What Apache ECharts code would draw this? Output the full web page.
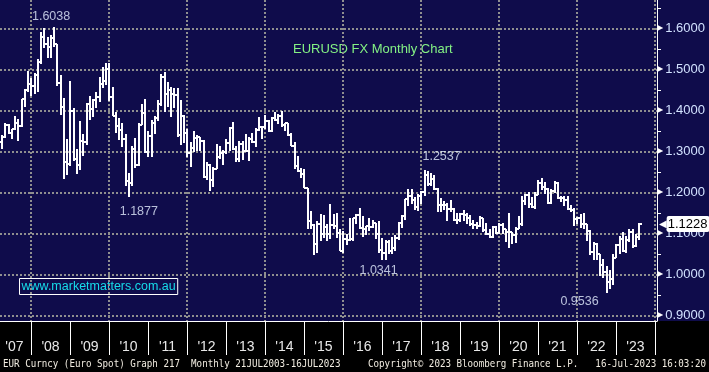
<!DOCTYPE html>
<html><head><meta charset="utf-8">
<script src="https://cdn.jsdelivr.net/npm/echarts@6/dist/echarts.min.js"></script>
<style>
html,body{margin:0;padding:0;background:#000;}
#c{width:709px;height:372px;background:linear-gradient(to bottom,#0f0c4b 0px,#0f0c4b 321px,#000 321px,#000 372px);}
</style></head><body><div id="c"></div>
<script>
// ---- data (EURUSD monthly OHLC, Feb 2007 .. Jul 2023) ----
const startYear = 2007, startMonth = 2;
const opens = [
 1.2999,1.3229,1.3354,1.3651,1.3452,1.3540,1.3690,1.3625,1.4268,1.4489,1.4630,
 1.4590,1.4861,1.5184,1.5785,1.5615,1.5546,1.5755,1.5605,1.4674,1.4092,1.2727,1.2698,
 1.3971,1.2803,1.2666,1.3250,1.3231,1.4150,1.4031,1.4255,1.4335,1.4640,1.4720,1.4999,
 1.4321,1.3868,1.3626,1.3510,1.3290,1.2279,1.2236,1.3047,1.2676,1.3633,1.3938,1.2982,
 1.3380,1.3696,1.3818,1.4165,1.4807,1.4388,1.4500,1.4393,1.4365,1.3387,1.3862,1.3444,
 1.2962,1.3083,1.3317,1.3340,1.3239,1.2362,1.2667,1.2303,1.2578,1.2858,1.2958,1.2987,
 1.3193,1.3576,1.3058,1.2819,1.3167,1.2999,1.3010,1.3302,1.3222,1.3526,1.3582,1.3588,
 1.3743,1.3486,1.3804,1.3770,1.3869,1.3634,1.3692,1.3387,1.3132,1.2632,1.2525,1.2454,
 1.2100,1.1290,1.1196,1.0731,1.1224,1.0987,1.1147,1.0984,1.1211,1.1177,1.1004,1.0565,
 1.0862,1.0831,1.0872,1.1380,1.1454,1.1130,1.1105,1.1174,1.1157,1.1240,1.0982,1.0588,
 1.0517,1.0798,1.0576,1.0652,1.0895,1.1244,1.1426,1.1842,1.1910,1.1814,1.1646,1.1905,
 1.2005,1.2414,1.2195,1.2324,1.2079,1.1693,1.1684,1.1690,1.1603,1.1604,1.1313,1.1317,
 1.1467,1.1444,1.1372,1.1217,1.1213,1.1170,1.1371,1.1076,1.0987,1.0899,1.1151,1.1018,
 1.1213,1.1093,1.1027,1.1031,1.0955,1.1102,1.1234,1.1778,1.1937,1.1722,1.1647,1.1930,
 1.2216,1.2136,1.2075,1.1730,1.2020,1.2227,1.1858,1.1870,1.1808,1.1580,1.1558,1.1338,
 1.1370,1.1235,1.1217,1.1067,1.0545,1.0733,1.0484,1.0221,1.0053,0.9802,0.9883,1.0406,
 1.0705,1.0863,1.0576,1.0839,1.1019,1.0689,1.0909
];
const highs = [
 1.3250,1.3392,1.3682,1.3660,1.3552,1.3852,1.3790,1.4282,1.4528,1.4967,1.4790,
 1.4904,1.5240,1.5904,1.6019,1.5785,1.5842,1.6038,1.5624,1.4867,1.4310,1.3300,1.4719,
 1.4065,1.3052,1.3739,1.3431,1.4185,1.4338,1.4283,1.4447,1.4800,1.5061,1.5145,1.5144,
 1.4579,1.3966,1.3816,1.3692,1.3415,1.2465,1.3120,1.3334,1.3687,1.4157,1.4282,1.3499,
 1.3754,1.3862,1.4249,1.4882,1.4940,1.4698,1.4578,1.4549,1.4548,1.4248,1.3874,1.3546,
 1.3234,1.3486,1.3385,1.3360,1.3284,1.2748,1.2692,1.2623,1.3172,1.3140,1.3026,1.3308,
 1.3588,1.3711,1.3138,1.3244,1.3243,1.3416,1.3349,1.3452,1.3568,1.3833,1.3620,1.3893,
 1.3774,1.3825,1.3967,1.3906,1.3993,1.3700,1.3700,1.3444,1.3222,1.2887,1.2600,1.2570,
 1.2110,1.1534,1.1215,1.1290,1.1467,1.1436,1.1216,1.1714,1.1460,1.1495,1.1095,1.1060,
 1.0986,1.1376,1.1384,1.1464,1.1616,1.1428,1.1186,1.1366,1.1328,1.1257,1.1300,1.0874,
 1.0829,1.0829,1.0906,1.0950,1.1268,1.1446,1.1846,1.2070,1.2092,1.1880,1.1961,1.2023,
 1.2537,1.2530,1.2476,1.2414,1.2097,1.1852,1.1791,1.1734,1.1815,1.1625,1.1500,1.1486,
 1.1570,1.1489,1.1448,1.1324,1.1265,1.1412,1.1376,1.1249,1.1110,1.1179,1.1175,1.1240,
 1.1239,1.1105,1.1495,1.1032,1.1146,1.1422,1.1908,1.1966,1.2011,1.1881,1.2004,1.2310,
 1.2349,1.2243,1.2114,1.2080,1.2266,1.2254,1.1909,1.1900,1.1909,1.1692,1.1616,1.1386,
 1.1482,1.1495,1.1233,1.1076,1.0786,1.0773,1.0486,1.0368,1.0198,1.0094,1.0497,1.0736,
 1.0929,1.1033,1.0930,1.1095,1.1092,1.0976,1.1240
];
const lows = [
 1.2930,1.3066,1.3316,1.3412,1.3290,1.3515,1.3260,1.3580,1.4070,1.4440,1.4350,
 1.4400,1.4442,1.5140,1.5514,1.5282,1.5283,1.5551,1.4583,1.3880,1.2330,1.2421,1.2650,
 1.2765,1.2457,1.2548,1.2887,1.3160,1.3751,1.3831,1.4047,1.4201,1.4537,1.4622,1.4217,
 1.3857,1.3444,1.3267,1.3115,1.2143,1.1877,1.2150,1.2588,1.2644,1.3633,1.2969,1.2862,
 1.2867,1.3429,1.3748,1.4112,1.3968,1.4070,1.3837,1.4049,1.3360,1.3146,1.3211,1.2858,
 1.2624,1.2975,1.3003,1.3004,1.2360,1.2288,1.2042,1.2134,1.2562,1.2802,1.2661,1.2927,
 1.2998,1.3036,1.2750,1.2745,1.2796,1.2985,1.2755,1.3199,1.3105,1.3487,1.3296,1.3549,
 1.3477,1.3478,1.3750,1.3674,1.3586,1.3503,1.3366,1.3132,1.2571,1.2500,1.2358,1.2098,
 1.1098,1.1098,1.0458,1.0520,1.0819,1.0888,1.0808,1.0848,1.1105,1.0896,1.0557,1.0524,
 1.0711,1.0810,1.0822,1.1217,1.1098,1.0912,1.0952,1.1046,1.1123,1.0851,1.0518,1.0352,
 1.0341,1.0494,1.0495,1.0570,1.0839,1.1119,1.1312,1.1662,1.1717,1.1575,1.1554,1.1718,
 1.1916,1.2155,1.2155,1.2055,1.1510,1.1508,1.1576,1.1301,1.1527,1.1302,1.1216,1.1269,
 1.1289,1.1234,1.1176,1.1110,1.1107,1.1160,1.1027,1.0962,1.0879,1.0879,1.0981,1.0981,
 1.0992,1.0778,1.0636,1.0727,1.0767,1.1100,1.1186,1.1696,1.1612,1.1622,1.1603,1.1925,
 1.2053,1.1952,1.1704,1.1704,1.1986,1.1847,1.1752,1.1664,1.1563,1.1524,1.1186,1.1222,
 1.1121,1.1106,1.0806,1.0471,1.0349,1.0359,0.9952,0.9901,0.9536,0.9632,0.9730,1.0393,
 1.0483,1.0533,1.0516,1.0788,1.0635,1.0662,1.0834
];
const closes = [
 1.3229,1.3354,1.3651,1.3452,1.3540,1.3690,1.3625,1.4268,1.4489,1.4630,1.4590,
 1.4861,1.5184,1.5785,1.5615,1.5546,1.5755,1.5605,1.4674,1.4092,1.2727,1.2698,1.3971,
 1.2803,1.2666,1.3250,1.3231,1.4150,1.4031,1.4255,1.4335,1.4640,1.4720,1.4999,1.4321,
 1.3868,1.3626,1.3510,1.3290,1.2279,1.2236,1.3047,1.2676,1.3633,1.3938,1.2982,1.3380,
 1.3696,1.3818,1.4165,1.4807,1.4388,1.4500,1.4393,1.4365,1.3387,1.3862,1.3444,1.2962,
 1.3083,1.3317,1.3340,1.3239,1.2362,1.2667,1.2303,1.2578,1.2858,1.2958,1.2987,1.3193,
 1.3576,1.3058,1.2819,1.3167,1.2999,1.3010,1.3302,1.3222,1.3526,1.3582,1.3588,1.3743,
 1.3486,1.3804,1.3770,1.3869,1.3634,1.3692,1.3387,1.3132,1.2632,1.2525,1.2454,1.2100,
 1.1290,1.1196,1.0731,1.1224,1.0987,1.1147,1.0984,1.1211,1.1177,1.1004,1.0565,1.0862,
 1.0831,1.0872,1.1380,1.1454,1.1130,1.1105,1.1174,1.1157,1.1240,1.0982,1.0588,1.0517,
 1.0798,1.0576,1.0652,1.0895,1.1244,1.1426,1.1842,1.1910,1.1814,1.1646,1.1905,1.2005,
 1.2414,1.2195,1.2324,1.2079,1.1693,1.1684,1.1690,1.1603,1.1604,1.1313,1.1317,1.1467,
 1.1444,1.1372,1.1217,1.1213,1.1170,1.1371,1.1076,1.0987,1.0899,1.1151,1.1018,1.1213,
 1.1093,1.1027,1.1031,1.0955,1.1102,1.1234,1.1778,1.1937,1.1722,1.1647,1.1930,1.2216,
 1.2136,1.2075,1.1730,1.2020,1.2227,1.1858,1.1870,1.1808,1.1580,1.1558,1.1338,1.1370,
 1.1235,1.1217,1.1067,1.0545,1.0733,1.0484,1.0221,1.0053,0.9802,0.9883,1.0406,1.0705,
 1.0863,1.0576,1.0839,1.1019,1.0689,1.0909,1.1228
];
const yearLabels = ["'07","'08","'09","'10","'11","'12","'13","'14","'15","'16","'17","'18","'19","'20","'21","'22","'23"];
const yTickValues = [0.9, 1.0, 1.1, 1.2, 1.3, 1.4, 1.5, 1.6];
const yMinorValues = [0.95, 1.05, 1.15, 1.25, 1.35, 1.45, 1.55, 1.65];
const annotMonths = ['2008-07', '2010-06', '2018-01', '2017-01', '2022-09'];
const annotValues = [1.6038, 1.1877, 1.2537, 1.0341, 0.9536];
const titleText = 'EURUSD FX Monthly Chart';
const siteText = 'www.marketmatters.com.au';
const footerLeft = 'EUR Curncy (Euro Spot) Graph 217  Monthly 21JUL2003-16JUL2023';
const footerMid = 'Copyright\u00A9 2023 Bloomberg Finance L.P.';
const footerRight = '16-Jul-2023 16:03:20';

// ---- layout helpers ----
const X_MIN = 2.46, X_MAX = 204.62;   // months since Jan 2007
const Y_MIN = 0.886, Y_MAX = 1.669;
const BAR_POS = 1.1;                  // bars plotted near month end
function monthIndex(ym) { const [y, m] = ym.split('-').map(Number); return (y - 2007) * 12 + (m - 1); }
const ohlc = opens.map((o, i) => {
  const mi = (startYear - 2007) * 12 + (startMonth - 1) + i;
  return [mi + BAR_POS, o, highs[i], lows[i], closes[i]];
});
const yearBoundaries = yearLabels.map((_, i) => (i + 1) * 12);
const yearLabelPos = yearLabels.map((_, i) => Math.max(i * 12 + 6, X_MIN + 4.45));
const lastClose = closes[closes.length - 1];
const annotOffsets = [[-3, -10], [10, 14], [17, -14], [-7, 10], [-27, 8]];

function renderOHLC(params, api) {
  const xv = api.value(0);
  const pO = api.coord([xv, api.value(1)]);
  const pH = api.coord([xv, api.value(2)]);
  const pL = api.coord([xv, api.value(3)]);
  const pC = api.coord([xv, api.value(4)]);
  const x = Math.round(pH[0]);
  const st = { stroke: '#ffffff', lineWidth: 2 };
  const yo = Math.round(pO[1]), yc = Math.round(pC[1]);
  return { type: 'group', children: [
    { type: 'line', shape: { x1: x, y1: Math.round(pH[1]), x2: x, y2: Math.round(pL[1]) }, style: st },
    { type: 'line', shape: { x1: x - 3, y1: yo, x2: x, y2: yo }, style: st },
    { type: 'line', shape: { x1: x, y1: yc, x2: x + 3, y2: yc }, style: st }
  ] };
}

const gridLine = { show: true, lineStyle: { color: '#8f8f8f', width: 2, type: [2, 2] } };
const footFont = '9.2px "DejaVu Sans Mono", monospace';
const footColor = '#f2ede2';
const chart = echarts.init(document.getElementById('c'), null, { renderer: 'canvas' });
chart.setOption({
  animation: false,
  backgroundColor: 'transparent',
  grid: { left: 0, top: 0, width: 657, height: 321, containLabel: false, outerBoundsMode: 'none' },
  xAxis: [
    { type: 'value', min: X_MIN, max: X_MAX, position: 'bottom',
      axisLine: { show: true, lineStyle: { color: '#ffffff', width: 1 } },
      axisTick: { show: true, customValues: yearBoundaries, length: 34, lineStyle: { color: '#ffffff', width: 1 } },
      axisLabel: { show: true, customValues: yearLabelPos, margin: 19, color: '#e8e8e8', fontSize: 14, fontFamily: 'Liberation Sans',
        formatter: v => yearLabels[Math.floor(v / 12)] },
      splitLine: { show: false } },
    { type: 'value', min: X_MIN, max: X_MAX, position: 'top',
      axisLine: { show: false }, axisLabel: { show: false },
      axisTick: { show: false, customValues: yearBoundaries.filter((v, i) => i % 2 === 0) },
      splitLine: gridLine }
  ],
  yAxis: [
    { type: 'value', min: Y_MIN, max: Y_MAX, position: 'right',
      axisLine: { show: true, lineStyle: { color: '#ffffff', width: 1 } },
      axisTick: { show: false, customValues: yTickValues },
      axisLabel: { show: true, customValues: yTickValues, margin: 0,
        formatter: v => '{t|\u25B6}{v|' + v.toFixed(4) + '}',
        rich: { t: { color: '#ffffff', fontSize: 8, fontFamily: 'DejaVu Sans', padding: [0, 2, 0, 0] },
                v: { color: '#d2e2ff', fontSize: 13, fontFamily: 'Liberation Sans' } } },
      splitLine: gridLine },
    { type: 'value', min: Y_MIN, max: Y_MAX, position: 'right',
      axisLine: { show: false }, axisLabel: { show: false }, splitLine: { show: false },
      axisTick: { show: true, inside: false, length: 4, customValues: yMinorValues, lineStyle: { color: '#ffffff', width: 1 } } },
    { type: 'value', min: Y_MIN, max: Y_MAX, position: 'right',
      axisLine: { show: false }, axisTick: { show: false }, splitLine: { show: false },
      axisLabel: { show: true, customValues: [lastClose], margin: 2,
        formatter: v => '{a|\u25C0}{b|' + v.toFixed(4) + '}',
        rich: { a: { color: '#ffffff', fontSize: 10, fontFamily: 'DejaVu Sans' },
                b: { color: '#000000', backgroundColor: '#ffffff', fontSize: 13, fontFamily: 'Liberation Sans', padding: [2, 2, 1, 1], borderRadius: 2 } } } }
  ],
  series: [
    { type: 'custom', name: 'EURUSD', xAxisIndex: 0, yAxisIndex: 0, renderItem: renderOHLC,
      encode: { x: 0, y: [1, 2, 3, 4] }, data: ohlc, clip: true, silent: true, z: 5 },
    { type: 'scatter', name: 'extremes', xAxisIndex: 0, yAxisIndex: 0, symbolSize: 1, silent: true,
      itemStyle: { color: 'rgba(0,0,0,0)' }, z: 6,
      label: { show: true, position: 'inside', color: '#e4eeff', fontSize: 12.5, fontFamily: 'Liberation Sans',
        formatter: p => p.value[1].toFixed(4) },
      data: annotMonths.map((m, i) => ({ value: [monthIndex(m) + BAR_POS, annotValues[i]], label: { offset: annotOffsets[i] } })) }
  ],
  graphic: [
    { type: 'text', left: 293, top: 43, silent: true,
      style: { text: titleText, fill: '#84f284', font: '13px "Liberation Sans"' } },
    { type: 'text', left: 19, top: 278, silent: true,
      style: { text: siteText, fill: '#16dcea', font: '12.5px "Liberation Sans"', borderColor: '#ffffff', borderWidth: 1, padding: [2, 2, 1, 2] } },
    { type: 'text', x: 3, y: 364, scaleY: 1.18, silent: true,
      style: { text: footerLeft, fill: footColor, font: footFont, align: 'left', verticalAlign: 'middle' } },
    { type: 'text', x: 368, y: 364, scaleY: 1.18, silent: true,
      style: { text: footerMid, fill: footColor, font: footFont, align: 'left', verticalAlign: 'middle' } },
    { type: 'text', x: 706, y: 364, scaleY: 1.18, silent: true,
      style: { text: footerRight, fill: footColor, font: footFont, align: 'right', verticalAlign: 'middle' } }
  ]
});
</script></body></html>
